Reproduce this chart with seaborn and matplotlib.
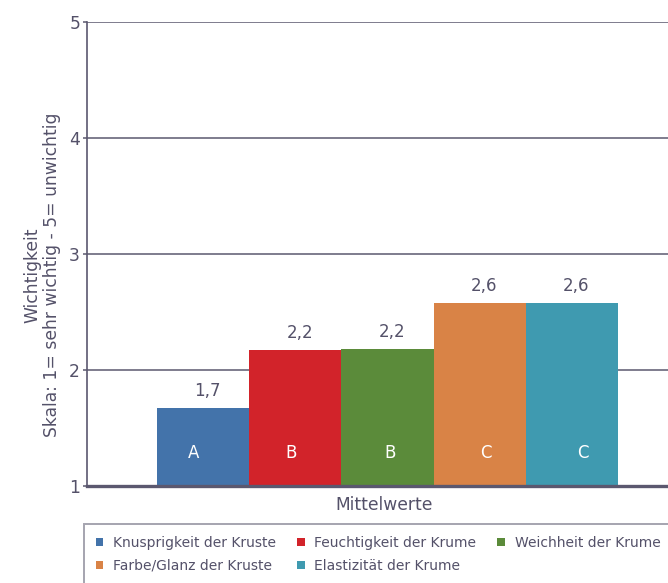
import matplotlib
matplotlib.use("Agg")
import matplotlib.pyplot as plt
import seaborn as sns
import pandas as pd
from matplotlib.patches import Patch

# Mean importance ratings (1 = very important, 5 = unimportant)
categories = [
    "Knusprigkeit der Kruste",
    "Feuchtigkeit der Krume",
    "Weichheit der Krume",
    "Farbe/Glanz der Kruste",
    "Elastizität der Krume",
]
means = [1.67, 2.17, 2.18, 2.58, 2.58]
groups = ["A", "B", "B", "C", "C"]
colors = ["#4373aa", "#d2232a", "#5b8b3a", "#d98346", "#3f9ab0"]
yticks = [1, 2, 3, 4, 5]

# horizontal nudges of the group letters, in bar widths
letter_shift = [-0.10, -0.05, 0.03, 0.07, 0.12]

text_col = "#545169"
line_col = "#5b586f"

sns.set_theme(style="white")
plt.rcParams["font.family"] = ["DejaVu Sans"]

df = pd.DataFrame({"Merkmal": categories, "Mittelwert": means})

fig = plt.figure(figsize=(6.68, 5.83), dpi=100)
ax = fig.add_axes([87 / 668, 97 / 583, 601 / 668, 464 / 583])

sns.barplot(data=df, x="Merkmal", y="Mittelwert", hue="Merkmal",
            palette=colors, order=categories, hue_order=categories,
            width=1.0, dodge=False, legend=False, ax=ax, saturation=1,
            linewidth=0, zorder=3)

ax.set_ylim(1, 5)
ax.set_xlim(-1.26, 5.26)
ax.set_yticks(yticks)
ax.set_yticklabels([str(t) for t in yticks], fontsize=12.3, color=text_col)
ax.set_xticks([])
for y in yticks[1:]:
    ax.axhline(y, color=line_col, lw=1.1, zorder=1)

for s in ["top", "right"]:
    ax.spines[s].set_visible(False)
ax.spines["left"].set_color(line_col)
ax.spines["left"].set_linewidth(1.2)
ax.spines["bottom"].set_color(line_col)
ax.spines["bottom"].set_linewidth(2.4)
ax.spines["bottom"].set_zorder(5)
ax.tick_params(axis="y", direction="out", length=3, width=1.1, color=line_col, pad=2, left=True)

for i, (v, g) in enumerate(zip(means, groups)):
    ax.text(i + 0.05, v + 0.07, f"{v:.1f}".replace(".", ","), ha="center", va="bottom",
            fontsize=12, color=text_col)
    ax.text(i + letter_shift[i], 1.285, g, ha="center", va="center", fontsize=12,
            color="white")

ax.set_xlabel("")
ax.set_ylabel("")
fig.text(42 / 668, 1 - 275 / 583, "Wichtigkeit\nSkala: 1= sehr wichtig - 5= unwichtig",
         rotation=90, ha="center", va="center", multialignment="center",
         fontsize=12.3, color=text_col, linespacing=1.15)
fig.text(384 / 668, 1 - 505 / 583, "Mittelwerte", ha="center", va="center",
         fontsize=12.3, color=text_col)

handles = [Patch(facecolor=c, edgecolor="none") for c in colors]
order = [0, 3, 1, 4, 2]
leg = fig.legend([handles[i] for i in order], [categories[i] for i in order],
                 ncol=3, loc="upper left",
                 bbox_to_anchor=(84 / 668, 1 - 524 / 583),
                 frameon=True, fancybox=False, fontsize=10,
                 handlelength=0.55, handleheight=0.55, handletextpad=0.7,
                 columnspacing=1.5, labelspacing=0.65, borderpad=0.85,
                 borderaxespad=0)
leg.get_frame().set_edgecolor("#8f8d9c")
leg.get_frame().set_linewidth(1.4)
for t in leg.get_texts():
    t.set_color(text_col)

fig.savefig("out.png", dpi=100)
